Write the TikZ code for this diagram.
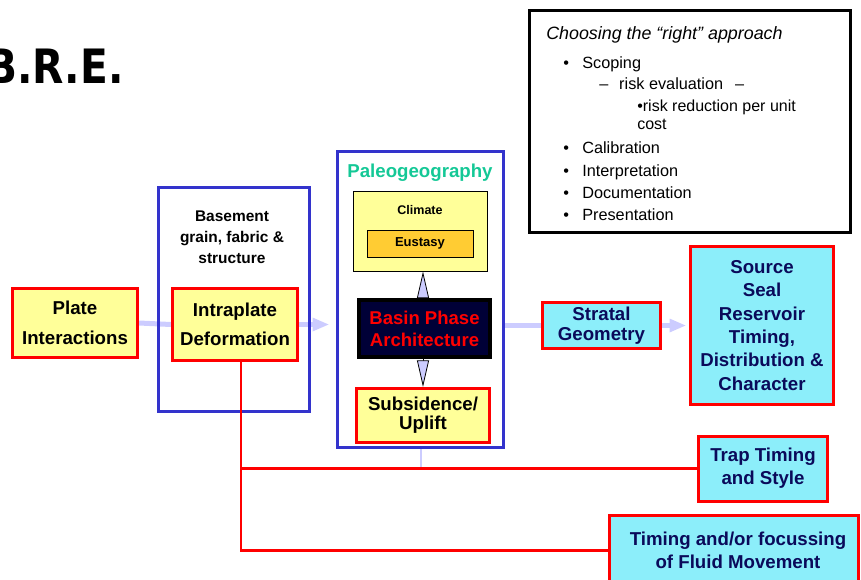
\documentclass[tikz,border=0pt]{standalone}
\usepackage{fontspec}
\setmainfont{Liberation Sans}
\newfontfamily\brefont[FakeStretch=0.86]{DejaVu Sans}
\usepackage{xcolor}
\usepackage{tikz}
\usetikzlibrary{arrows.meta, positioning, backgrounds}
\definecolor{BREYellow}{RGB}{255, 255, 153}
\definecolor{BREAmber}{RGB}{255, 204, 51}
\definecolor{BRERed}{RGB}{255, 0, 0}
\definecolor{BREBlue}{RGB}{51, 51, 204}
\definecolor{BRECyan}{RGB}{140, 238, 250}
\definecolor{BRENavy}{RGB}{10, 10, 90}
\definecolor{BREDeep}{RGB}{0, 0, 55}
\definecolor{BRETeal}{RGB}{20, 200, 150}
\definecolor{BRELavender}{RGB}{204, 204, 255}
\newcommand\notebullet{•\hspace{10pt}}
\tikzset{
  redbox/.style={draw=BRERed, line width=2.25pt, inner sep=0pt, align=center},
  yellowbox/.style={redbox, fill=BREYellow, text=black},
  cyanbox/.style={redbox, fill=BRECyan, text=BRENavy},
  frame/.style={draw=BREBlue, line width=2.4pt, inner sep=0pt},
  thinbox/.style={draw=black, line width=0.75pt, inner sep=0pt},
  notetext/.style={anchor=base west, inner sep=0pt, font=\fontsize{12.2}{14}\selectfont},
  lightline/.style={draw=BRELavender, line width=3.75pt},
  lightarrow/.style={lightline, -{Triangle[length=12pt, width=10.5pt, line width=0pt]}},
  dblarrow/.style={draw=black, line width=0.6pt,
    {Triangle[length=20pt, width=9pt, fill=BRELavender]}-{Triangle[length=20pt, width=9pt, fill=BRELavender]}},
  redline/.style={draw=BRERed, line width=1.9pt}
}

\begin{document}
\begin{tikzpicture}[x=0.75pt, y=-0.75pt]
  \path[use as bounding box] (0,0) rectangle (861,579);
  \clip (0,0) rectangle (861,579);

  % title, cut at the left edge
  \node[anchor=base east, inner sep=0pt, font=\brefont\bfseries\fontsize{35.5}{40}\selectfont] (title) at (124,83) {B.R.E.};

  % notes panel
  \node[draw=black, line width=2.6pt, minimum width=240.75pt, minimum height=166.5pt, inner sep=0pt] (notes) at (690,121.5) {};
  \node[notetext, font=\itshape\fontsize{13.4}{15}\selectfont] (choosing) at (546,39) {Choosing the “right” approach};
  \node[notetext] (scoping) at (563,68) {\notebullet Scoping};
  \node[notetext] (riskeval) at (599,89) {–\hspace{8.2pt}risk evaluation\hspace{9pt}–};
  \node[notetext, font=\fontsize{12}{14}\selectfont] (riskred) at (637,111) {•risk reduction per unit};
  \node[notetext, font=\fontsize{12}{14}\selectfont] (cost) at (637,129) {cost};
  \node[notetext] (calib) at (563,153) {\notebullet Calibration};
  \node[notetext] (interp) at (563,176) {\notebullet Interpretation};
  \node[notetext] (docu) at (563,198) {\notebullet Documentation};
  \node[notetext] (present) at (563,220) {\notebullet Presentation};

  % plate and basement
  \node[yellowbox, minimum width=93.75pt, minimum height=51.75pt, font=\bfseries\fontsize{14}{22.5}\selectfont] (plate) at (75,323) {Plate\\Interactions};
  \node[frame, minimum width=113.25pt, minimum height=168pt] (basement) at (234,299.5) {};
  \node[align=center, inner sep=0pt, font=\bfseries\fontsize{11.6}{15.75}\selectfont] (basementlbl) at (232,237) {Basement\\grain, fabric \&\\structure};
  \node[yellowbox, minimum width=93.75pt, minimum height=54pt, font=\bfseries\fontsize{14}{21.75}\selectfont] (intraplate) at (235,324.5) {Intraplate\\Deformation};
  \coordinate (drop) at ([xshift=4.5pt]intraplate.south);

  % paleogeography
  \node[frame, minimum width=124.5pt, minimum height=222pt] (paleo) at (420.5,299.5) {};
  \node[inner sep=0pt, text=BRETeal, font=\bfseries\fontsize{14}{16}\selectfont] (paleolbl) at (420,173) {Paleogeography};
  \node[thinbox, fill=BREYellow, minimum width=100.5pt, minimum height=60pt] (climate) at (420,231) {};
  \node[inner sep=0pt, font=\bfseries\fontsize{9.4}{11}\selectfont] (climatelbl) at (420,210) {Climate};
  \node[thinbox, fill=BREAmber, minimum width=79.5pt, minimum height=20.25pt, font=\bfseries\fontsize{9.75}{11}\selectfont] (eustasy) at (420,243.5) {Eustasy};
  \node[draw=black, line width=2.6pt, fill=BREDeep, text=BRERed, inner sep=0pt, align=center, minimum width=98.25pt, minimum height=42.75pt, font=\bfseries\fontsize{13.9}{16.5}\selectfont] (basin) at (424.5,328.5) {Basin Phase\\Architecture};
  \node[yellowbox, minimum width=99.75pt, minimum height=40.5pt, font=\bfseries\fontsize{14}{14.25}\selectfont] (subsidence) at (423,415.5) {Subsidence/\\Uplift};

  % outcomes
  \node[cyanbox, minimum width=88.5pt, minimum height=34.5pt, font=\bfseries\fontsize{14}{14.6}\selectfont] (stratal) at (601.5,325.5) {Stratal\\Geometry};
  \node[cyanbox, minimum width=107.25pt, minimum height=118.5pt, font=\bfseries\fontsize{14}{17.5}\selectfont] (source) at (762,325.5) {Source\\Seal\\Reservoir\\Timing,\\Distribution \&\\Character};
  \node[cyanbox, minimum width=96.75pt, minimum height=48.75pt, font=\bfseries\fontsize{14}{17.25}\selectfont] (trap) at (763,468.5) {Trap Timing\\and Style};
  \node[cyanbox, minimum width=186.75pt, minimum height=52.5pt, font=\bfseries\fontsize{14}{17.25}\selectfont] (fluid) at (734,550.5) {\hspace{6pt}Timing and/or focussing\\\hspace{6pt}of Fluid Movement};

  % connectors
  \begin{pgfonlayer}{background}
    \draw[lightline] (plate.east) -- (intraplate.west);
    \draw[lightarrow, shorten >=5.5pt] (intraplate.east) -- (intraplate.east -| paleo.west);
    \draw[lightline] (stratal.west -| paleo.east) -- (stratal.west);
    \draw[lightarrow, shorten >=2.6pt] (stratal.east) -- (source.west);
    \draw[dblarrow] (subsidence.north |- climate.south) -- (subsidence.north);
    \draw[draw=BRELavender, line width=1.5pt] (paleo.south) -- (paleo.south |- trap.west);
  \end{pgfonlayer}
  \draw[redline] (drop) |- (fluid.west);
  \draw[redline] (trap.west) -- (trap.west -| drop);
\end{tikzpicture}
\end{document}
